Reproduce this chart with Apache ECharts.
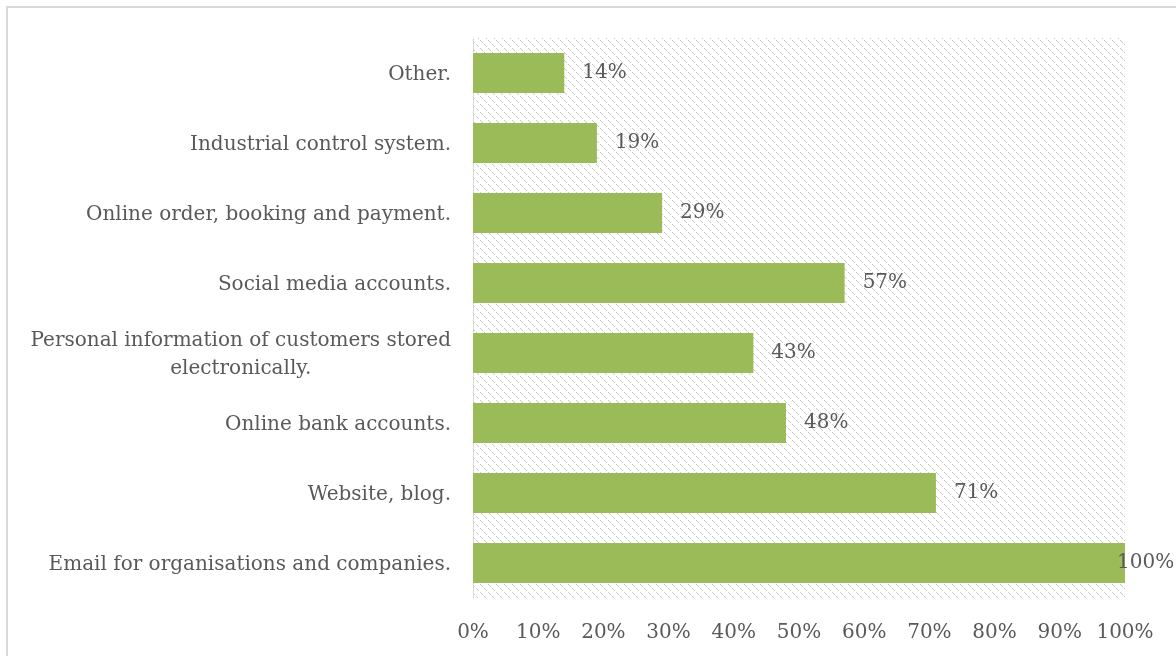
<!DOCTYPE html>
<html>
<head>
<meta charset="utf-8">
<script src="https://cdn.jsdelivr.net/npm/echarts@6/dist/echarts.min.js"></script>
<style>
  html, body { margin: 0; padding: 0; background: #ffffff; }
  #chart { width: 1176px; height: 656px; }
</style>
</head>
<body>
<div id="chart"></div>
<script>
// Categories, listed top to bottom
const categories = [
  'Other.',
  'Industrial control system.',
  'Online order, booking and payment.',
  'Social media accounts.',
  'Personal information of customers stored\nelectronically.',
  'Online bank accounts.',
  'Website, blog.',
  'Email for organisations and companies.'
];
// Share of respondents, percent
const values = [14, 19, 29, 57, 43, 48, 71, 100];
// Value axis ticks
const tickValues = [0, 10, 20, 30, 40, 50, 60, 70, 80, 90, 100];

const FONT = 'DejaVu Serif';
const CAT_SIZE = 20;
const NUM_SIZE = 20;
const TEXT_COLOR = '#595959';
const BAR_COLOR = '#9BBB59';

// Diagonal hatch tile for the plot background
function hatchPattern() {
  const c = document.createElement('canvas');
  c.width = 8; c.height = 8;
  const ctx = c.getContext('2d');
  ctx.fillStyle = '#c8c8c8';
  for (let i = 0; i < 8; i++) {
    if (i % 4 !== 3) ctx.fillRect(i, i, 1, 1);
  }
  return c;
}

// Width of the longest line of a label, used to centre wrapped lines
function textWidth(str) {
  const c = document.createElement('canvas').getContext('2d');
  c.font = CAT_SIZE + 'px "' + FONT + '"';
  return Math.max(...str.split('\n').map(s => c.measureText(s).width));
}

const chart = echarts.init(document.getElementById('chart'), null, { renderer: 'canvas' });

const option = {
  backgroundColor: '#ffffff',
  animation: false,
  textStyle: { fontFamily: FONT },
  graphic: [{
    type: 'rect',
    shape: { x: 7, y: 7, width: 1300, height: 800 },
    style: { fill: null, stroke: '#d9d9d9', lineWidth: 2 },
    silent: true
  }],
  grid: {
    left: 473, right: 51, top: 38, bottom: 58,
    show: true,
    borderWidth: 0,
    backgroundColor: { image: hatchPattern(), repeat: 'repeat' }
  },
  xAxis: {
    type: 'value',
    min: tickValues[0],
    max: tickValues[tickValues.length - 1],
    interval: tickValues[1] - tickValues[0],
    axisLine: { show: false },
    axisTick: { show: false },
    splitLine: { show: false },
    axisLabel: {
      formatter: '{value}%',
      color: TEXT_COLOR,
      fontFamily: FONT,
      fontSize: NUM_SIZE,
      margin: 25
    }
  },
  yAxis: {
    type: 'category',
    data: categories,
    inverse: true,
    axisLine: { show: true, lineStyle: { color: '#d9d9d9', width: 1 } },
    axisTick: { show: false },
    splitLine: { show: false },
    axisLabel: {
      color: TEXT_COLOR,
      fontFamily: FONT,
      fontSize: CAT_SIZE,
      margin: 22,
      lineHeight: 28,
      padding: [3, 0, 0, 0],
      formatter: function (v) {
        if (v.indexOf('\n') < 0) return v;
        return v.split('\n').map(s => '{c|' + s + '}').join('\n');
      },
      rich: {
        c: {
          width: textWidth(categories[4]),
          align: 'center',
          color: TEXT_COLOR,
          fontFamily: FONT,
          fontSize: CAT_SIZE,
          lineHeight: 28
        }
      }
    }
  },
  series: [{
    type: 'bar',
    data: values.map(v => v === 100
      ? { value: v, label: { distance: -8 } }
      : v),
    barCategoryGap: '43%',
    itemStyle: { color: BAR_COLOR },
    label: {
      show: true,
      position: 'right',
      distance: 18,
      formatter: '{c}%',
      color: TEXT_COLOR,
      fontFamily: FONT,
      fontSize: NUM_SIZE
    }
  }]
};

chart.setOption(option);
</script>
</body>
</html>
